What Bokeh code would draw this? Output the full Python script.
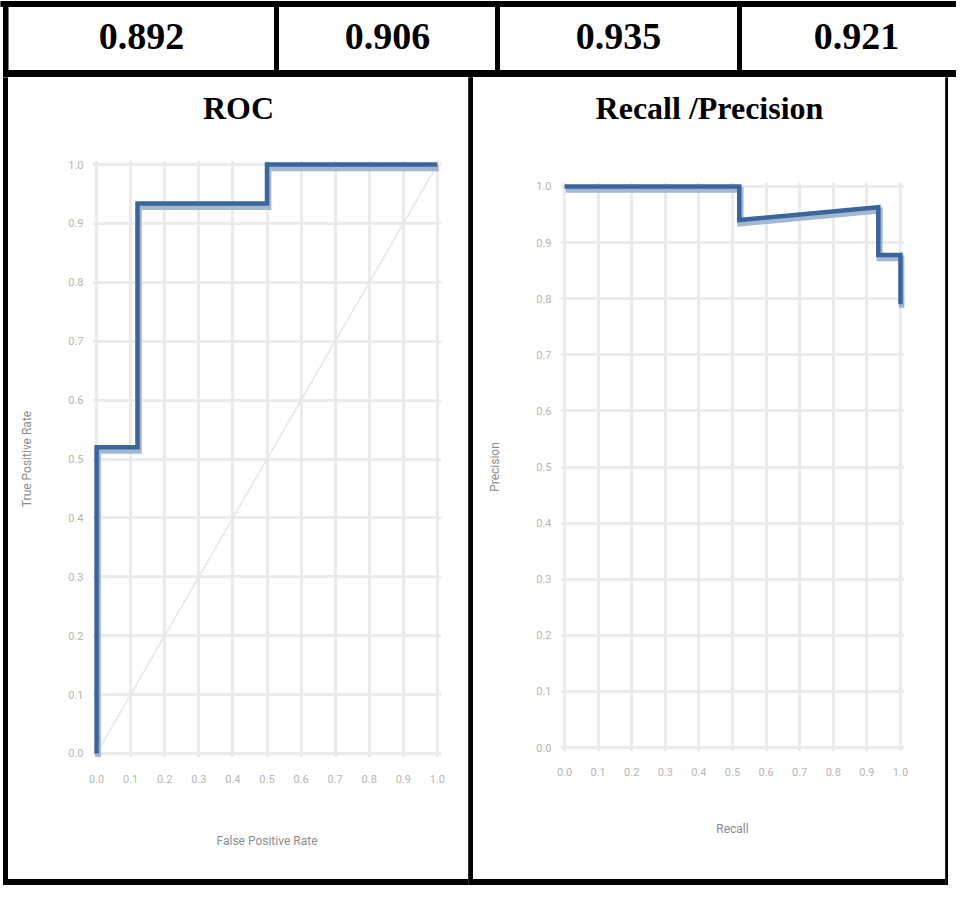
from bokeh.plotting import figure
from bokeh.layouts import column, row
from bokeh.models import Range1d, FixedTicker, PrintfTickFormatter, ColumnDataSource, Div
from bokeh.transform import dodge
from bokeh.core.properties import value
from bokeh.embed import file_html
from bokeh.resources import INLINE

# ---------------- data ----------------
scores = ["0.892", "0.906", "0.935", "0.921"]

ticks = [0.0, 0.1, 0.2, 0.3, 0.4, 0.5, 0.6, 0.7, 0.8, 0.9, 1.0]

roc_fpr = [0.0, 0.0, 0.12, 0.12, 0.50, 0.50, 1.0]
roc_tpr = [0.0, 0.52, 0.52, 0.934, 0.934, 1.0, 1.0]
chance_fpr = [0.0, 1.0]
chance_tpr = [0.0, 1.0]

pr_recall = [0.0, 0.52, 0.52, 0.934, 0.934, 1.0, 1.0]
pr_precision = [1.0, 1.0, 0.94, 0.963, 0.878, 0.878, 0.79]

roc_title = "ROC"
pr_title = "Recall /Precision"

# ---------------- styles ----------------
BLACK = "#000000"
DARK = "#3a659b"
LIGHT = "#a3b7d1"
GRID = "#ebebeb"
SERIF = value("Liberation Serif")


def base(w, h, xr, yr):
    p = figure(width=w, height=h, x_range=xr, y_range=yr, toolbar_location=None,
               output_backend="svg", x_axis_location=None, y_axis_location=None,
               min_border=0, outline_line_color=None)
    p.title.visible = False
    p.grid.visible = False
    return p


def rule(w, h, x0=0.0, x1=None):
    x1 = w if x1 is None else x1
    p = base(w, h, Range1d(0, w), Range1d(0, 1))
    if x0 == 0 and x1 == w:
        p.background_fill_color = BLACK
        p.border_fill_color = BLACK
    p.quad(left=[x0], right=[x1], bottom=[0], top=[1], color=BLACK)
    return p


def hrule(w, h):
    return Div(width=w, height=h, margin=(0, 0, 0, 0),
               styles={"background-color": BLACK})


# ---------------- top row of scores ----------------
top = base(956, 77, Range1d(0, 956), Range1d(77, 0))
top.quad(left=[0, 3, 274, 495, 737, 3],
         right=[956, 7.5, 278, 499, 741, 956],
         top=[1, 1, 1, 1, 1, 70],
         bottom=[6, 77, 77, 77, 77, 77], color=BLACK)
top.text(x=[141, 387, 618, 856], y=[36] * 4, text=scores,
         text_font=SERIF, text_font_style="bold", text_font_size="38px",
         text_align="center", text_baseline="middle", text_color=BLACK)


def title_fig(w, fl, fr, cx, txt):
    # frame of this figure is aligned with the chart frame below it (fl..fr)
    p = base(w, 63, Range1d(fl, fr), Range1d(63, 0))
    p.text(x=[cx], y=[30], text=[txt], text_font=SERIF, text_font_style="bold",
           text_font_size="32px", text_align="center", text_baseline="middle",
           text_color=BLACK)
    return p


def chart(w, h, mbl, mbr, mbt, mbb, xlab, ylab, xstand, lstand):
    p = figure(width=w, height=h, x_range=Range1d(-0.012, 1.012),
               y_range=Range1d(-0.007, 1.007), toolbar_location=None,
               output_backend="svg", min_border_left=mbl, min_border_right=mbr,
               min_border_top=mbt, min_border_bottom=mbb, outline_line_color=None)
    p.title.visible = False
    for ax in (p.xaxis, p.yaxis):
        ax.ticker = FixedTicker(ticks=ticks)
        ax.formatter = PrintfTickFormatter(format="%.1f")
        ax.axis_line_color = None
        ax.major_tick_line_color = None
        ax.minor_tick_line_color = None
        ax.major_label_text_font = "Roboto"
        ax.major_label_text_font_size = "11px"
        ax.major_label_text_color = "#b5b5b5"
        ax.axis_label_text_font = "Roboto"
        ax.axis_label_text_font_size = "12px"
        ax.axis_label_text_font_style = "normal"
        ax.axis_label_text_color = "#8c8c8c"
    p.xaxis.axis_label = xlab
    p.yaxis.axis_label = ylab
    p.xaxis.major_label_standoff = xstand
    p.yaxis.major_label_standoff = 3
    p.xaxis.axis_label_standoff = lstand
    p.yaxis.axis_label_standoff = 31
    for g in (p.xgrid, p.ygrid):
        g.ticker = FixedTicker(ticks=ticks)
        g.grid_line_color = GRID
        g.grid_line_width = 3
        g.bounds = (0, 1)
    return p


def curve(p, xs, ys):
    src = ColumnDataSource(dict(x=xs, y=ys))
    p.line(x=dodge("x", 0.004, range=p.x_range), y=dodge("y", -0.006, range=p.y_range),
           source=src, line_color=LIGHT, line_width=6, line_join="miter")
    p.line(x="x", y="y", source=src, line_color=DARK, line_width=4.5, line_join="miter")


# ---------------- ROC ----------------
roc = chart(460, 739, 84, 27, 20, 122, "False Positive Rate", "True Positive Rate", 11, 48)
roc.line(chance_fpr, chance_tpr, line_color="#e6e6e6", line_width=1.5)
curve(roc, roc_fpr, roc_tpr)

# ---------------- Recall / Precision ----------------
pr = chart(472, 739, 87, 41, 42, 128, "Recall", "Precision", 10, 43)
curve(pr, pr_recall, pr_precision)

left_col = column(title_fig(460, 92, 441, 238, roc_title), roc, hrule(460, 6), spacing=0)
right_col = column(title_fig(472, 560, 904, 709, pr_title), pr, hrule(472, 6), spacing=0)

lower = row(rule(8, 808, 3, 7.5), left_col, rule(5, 808), right_col, rule(3, 808), spacing=0)
layout = column(top, lower, spacing=0)

open("out.html", "w").write(file_html(layout, INLINE))
